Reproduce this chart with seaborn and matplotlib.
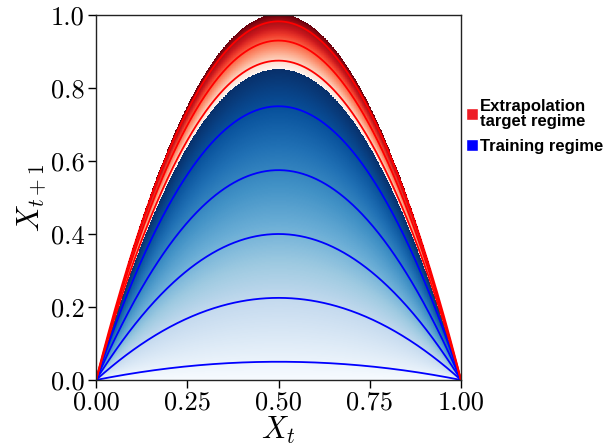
import numpy as np
import pandas as pd
import seaborn as sns
import matplotlib.pyplot as plt
from matplotlib.lines import Line2D

# logistic map x_{t+1} = r x_t (1 - x_t)
train_r = [0.2, 0.9, 1.6, 2.3, 3.0]      # blue curves
extrap_r = [3.5, 3.72, 3.93]            # red curves
train_range = [0.0, 3.4]                # blue shaded regime
extrap_range = [3.4, 4.0]               # red shaded regime
xticks = [0.00, 0.25, 0.50, 0.75, 1.00]
yticks = [0.0, 0.2, 0.4, 0.6, 0.8, 1.0]

sns.set_style('ticks')
plt.rcParams['font.family'] = 'serif'
plt.rcParams['font.serif'] = ['cmr10']
plt.rcParams['mathtext.fontset'] = 'cm'
plt.rcParams['axes.formatter.use_mathtext'] = True
plt.rcParams['text.color'] = 'black'
plt.rcParams['axes.labelcolor'] = 'black'
plt.rcParams['xtick.color'] = 'black'
plt.rcParams['ytick.color'] = 'black'

fig = plt.figure(figsize=(6.16, 4.48), dpi=100)
ax = fig.add_axes([96/616, 1-380/448, 365/616, 365/448])

# shaded regimes: colour each point by the r value that reaches it
n = 900
gx = np.linspace(0, 1, n)
gy = np.linspace(0, 1, n)
X, Y = np.meshgrid(gx, gy)
with np.errstate(divide='ignore', invalid='ignore'):
    R = Y / (X * (1 - X))
blue = np.ma.masked_where(~((R >= train_range[0]) & (R <= train_range[1])), R)
red = np.ma.masked_where(~((R > extrap_range[0]) & (R <= extrap_range[1])), R)
ax.imshow(blue, extent=[0, 1, 0, 1], origin='lower', cmap='Blues',
          vmin=train_range[0], vmax=train_range[1], aspect='auto', interpolation='nearest')
ax.imshow(red, extent=[0, 1, 0, 1], origin='lower', cmap='Reds',
          vmin=extrap_range[0], vmax=extrap_range[1], aspect='auto', interpolation='nearest')

xs = np.linspace(0, 1, 400)
rows = []
for r in train_r:
    for x in xs:
        rows.append({'x': x, 'y': r*x*(1-x), 'r': r, 'regime': 'train'})
for r in extrap_r:
    for x in xs:
        rows.append({'x': x, 'y': r*x*(1-x), 'r': r, 'regime': 'extrap'})
df = pd.DataFrame(rows)

sns.lineplot(data=df[df.regime == 'train'], x='x', y='y', units='r', estimator=None,
             color='blue', lw=1.3, ax=ax)
sns.lineplot(data=df[df.regime == 'extrap'], x='x', y='y', units='r', estimator=None,
             color='red', lw=1.3, ax=ax)

ax.set_xlim(0, 1)
ax.set_ylim(0, 1)
ax.set_xticks(xticks)
ax.set_yticks(yticks)
ax.set_xticklabels(['%.2f' % t for t in xticks])
ax.set_yticklabels(['%.1f' % t for t in yticks])
ax.tick_params(labelsize=19, length=6, width=1, pad=2)
ax.set_xlabel('$X_t$', fontsize=22, labelpad=0)
ax.set_ylabel('$X_{t+1}$', fontsize=22, labelpad=2)
for s in ax.spines.values():
    s.set_linewidth(1.0)
    s.set_color('#222222')

handles = [Line2D([], [], marker='s', color='w', markerfacecolor='#ee1c25', markersize=8),
           Line2D([], [], marker='s', color='w', markerfacecolor='blue', markersize=8)]
leg = fig.legend(handles, ['Extrapolation\ntarget regime', 'Training regime'],
                 loc='upper left', bbox_to_anchor=(460/616, 1-92/448), frameon=False,
                 handlelength=0.6, handletextpad=0.2, labelspacing=0.6, borderaxespad=0,
                 prop={'family': 'Liberation Sans', 'weight': 'bold', 'size': 12})
for t in leg.get_texts():
    t.set_linespacing(1.05)

fig.savefig('out.png', dpi=100)
